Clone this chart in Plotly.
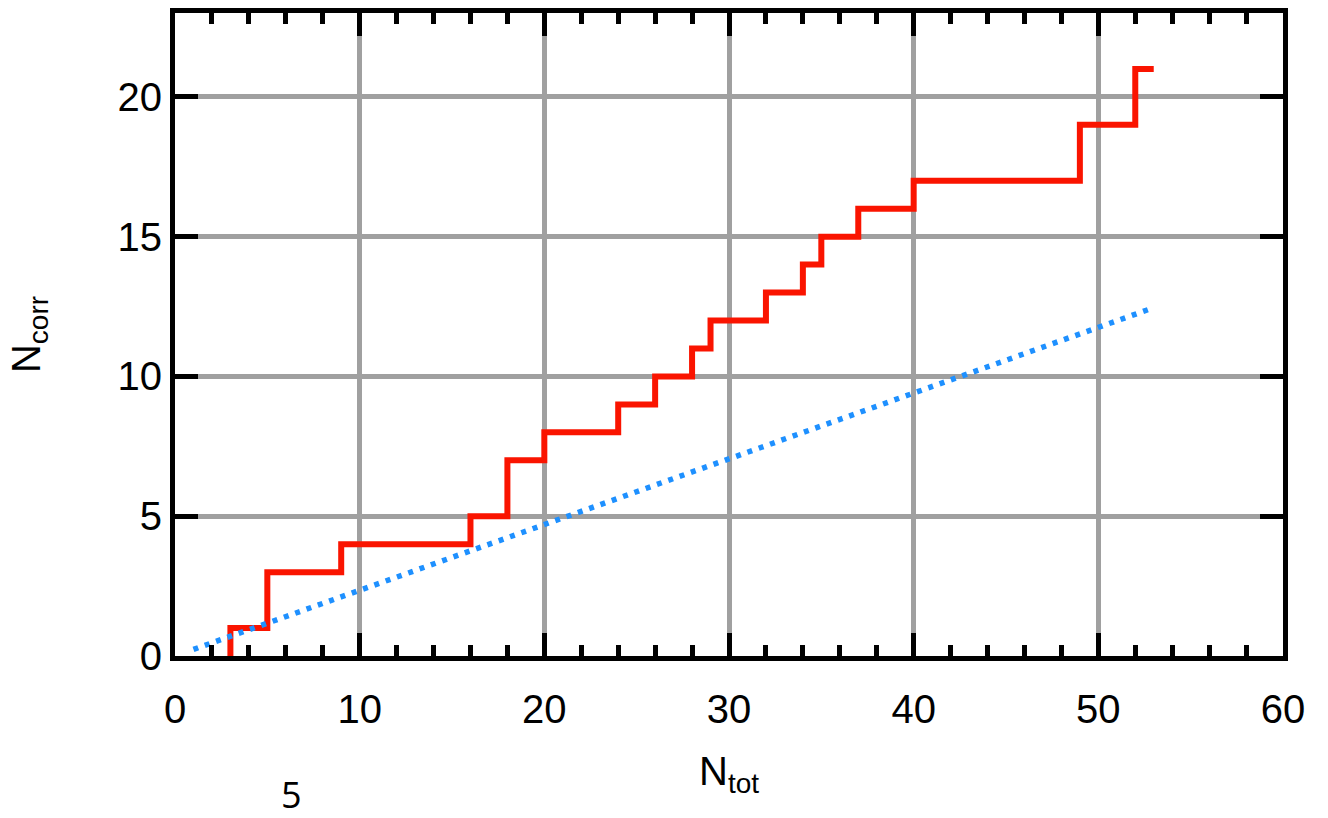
import plotly.graph_objects as go

# Cumulative count of correct results vs. total (step curve)
n_tot_steps = [3, 5, 9, 16, 18, 20, 24, 26, 28, 29, 32, 34, 35, 37, 40, 49, 52, 53]
n_corr_steps = [0, 1, 3, 4, 5, 7, 8, 9, 10, 11, 12, 13, 14, 15, 16, 17, 19, 21]

# Expected count (straight reference line)
n_tot_ref = [1, 53]
n_corr_ref = [0.235, 12.46]

x_ticks = [0, 10, 20, 30, 40, 50, 60]
y_ticks = [0, 5, 10, 15, 20]

fig = go.Figure()

fig.add_trace(go.Scatter(
    x=n_tot_steps, y=n_corr_steps, mode="lines",
    line=dict(color="rgb(250,20,0)", width=6, shape="vh"),
    showlegend=False,
))
fig.add_trace(go.Scatter(
    x=n_tot_ref, y=n_corr_ref, mode="lines",
    line=dict(color="#1e90ff", width=5.5, dash="5px,7px"),
    showlegend=False,
))

font = dict(family="Liberation Sans, Arial, sans-serif", size=40, color="black")

fig.update_xaxes(
    range=[0, 60], tickvals=x_ticks, ticktext=[str(v) for v in x_ticks],
    showgrid=True, gridcolor="#a0a0a0", gridwidth=5,
    zeroline=False,
    showline=True, linecolor="black", linewidth=5, mirror="ticks",
    ticks="inside", ticklen=23, tickwidth=5, tickcolor="black",
    minor=dict(dtick=2, ticks="inside", ticklen=11, tickwidth=5,
               tickcolor="black", showgrid=False),
    tickfont=font, ticklabelstandoff=14,
    title=dict(text="N<sub>tot</sub>", font=font, standoff=28),
    automargin=False,
)
fig.update_yaxes(
    range=[0, 23], tickvals=y_ticks, ticktext=[str(v) for v in y_ticks],
    showgrid=True, gridcolor="#a0a0a0", gridwidth=5,
    zeroline=False,
    showline=True, linecolor="black", linewidth=5, mirror="ticks",
    ticks="inside", ticklen=23, tickwidth=5, tickcolor="black",
    tickfont=font,
    title=dict(text="N<sub>corr</sub>", font=font, standoff=66),
    automargin=False,
)

fig.add_annotation(
    text="5", xref="paper", yref="paper", x=0.105, y=-0.215,
    xanchor="center", yanchor="middle", showarrow=False,
    font=dict(family="Open Sans, sans-serif", size=36, color="black"),
)

fig.update_layout(
    width=1328, height=818,
    margin=dict(l=175, r=45, t=13, b=162),
    paper_bgcolor="white", plot_bgcolor="white",
)

fig.write_html("out.html")
